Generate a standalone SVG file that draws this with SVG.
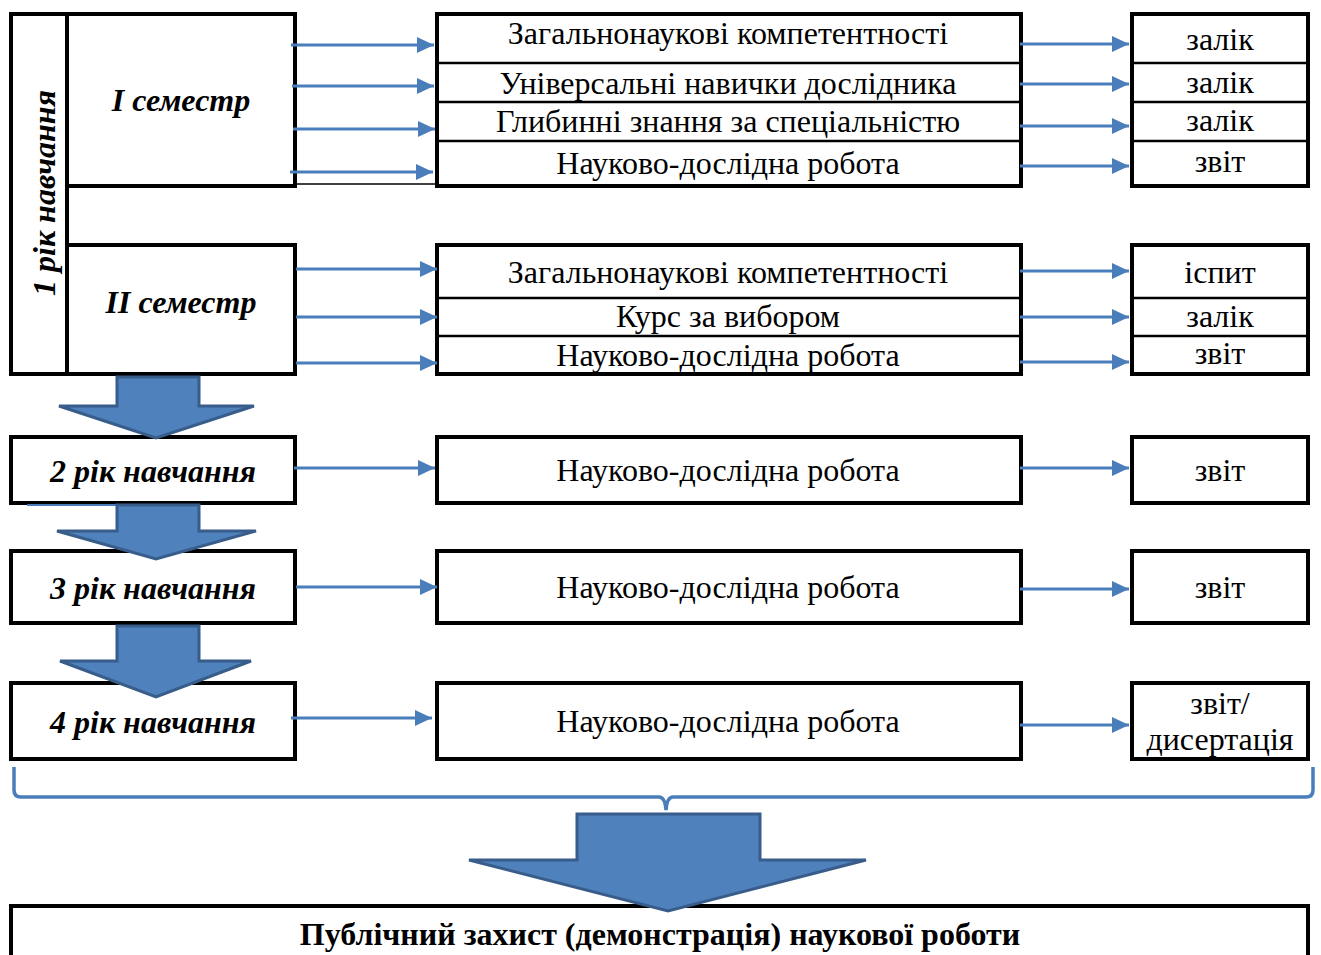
<svg xmlns="http://www.w3.org/2000/svg" width="1321" height="955" viewBox="0 0 1321 955">
<defs>
<style>
.box{fill:#fff;stroke:#000;stroke-width:4}
.div{stroke:#000;stroke-width:2.5;fill:none}
.t{font-family:"Liberation Serif","Times New Roman",serif;font-size:32px;fill:#000;text-anchor:middle}
.bi{font-family:"Liberation Serif","Times New Roman",serif;font-size:32px;font-weight:bold;font-style:italic;fill:#000;text-anchor:middle}
.b{font-family:"Liberation Serif","Times New Roman",serif;font-size:32px;font-weight:bold;fill:#000;text-anchor:middle}
.con{stroke:#4A7EBB;stroke-width:3;fill:none;marker-end:url(#ah)}
.blk{fill:#4F81BD;stroke:#385D8A;stroke-width:3;stroke-linejoin:miter}
</style>
<marker id="ah" markerUnits="userSpaceOnUse" markerWidth="18" markerHeight="16" refX="17" refY="8" orient="auto">
<path d="M0,0 L17,8 L0,16 Z" fill="#4A7EBB"/>
</marker>
</defs>
<rect width="1321" height="955" fill="#fff"/>

<g id="year1">
<rect class="box" x="11" y="14" width="56" height="360"/>
<text class="bi" transform="translate(55,193) rotate(-90)">1 рік навчання</text>
</g>
<g id="sem1">
<rect class="box" x="67" y="14" width="228" height="172"/>
<text class="bi" x="181" y="111">I семестр</text>
</g>
<g id="sem2">
<rect class="box" x="67" y="245" width="228" height="129"/>
<text class="bi" x="181" y="313">II семестр</text>
</g>

<g id="mid1">
<rect class="box" x="437" y="14" width="584" height="172"/>
<line class="div" x1="437" y1="63" x2="1021" y2="63"/>
<line class="div" x1="437" y1="102" x2="1021" y2="102"/>
<line class="div" x1="437" y1="141" x2="1021" y2="141"/>
<text class="t" x="728" y="44">Загальнонаукові компетентності</text>
<text class="t" x="728" y="94">Універсальні навички дослідника</text>
<text class="t" x="728" y="132">Глибинні знання за спеціальністю</text>
<text class="t" x="728" y="174">Науково-дослідна робота</text>
</g>
<g id="res1">
<rect class="box" x="1132" y="14" width="176" height="172"/>
<line class="div" x1="1132" y1="63" x2="1308" y2="63"/>
<line class="div" x1="1132" y1="102" x2="1308" y2="102"/>
<line class="div" x1="1132" y1="141" x2="1308" y2="141"/>
<text class="t" x="1220" y="50">залік</text>
<text class="t" x="1220" y="93">залік</text>
<text class="t" x="1220" y="131">залік</text>
<text class="t" x="1220" y="172">звіт</text>
</g>

<g id="mid2">
<rect class="box" x="437" y="245" width="584" height="129"/>
<line class="div" x1="437" y1="298" x2="1021" y2="298"/>
<line class="div" x1="437" y1="336" x2="1021" y2="336"/>
<text class="t" x="728" y="283">Загальнонаукові компетентності</text>
<text class="t" x="728" y="327">Курс за вибором</text>
<text class="t" x="728" y="366">Науково-дослідна робота</text>
</g>
<g id="res2">
<rect class="box" x="1132" y="245" width="176" height="129"/>
<line class="div" x1="1132" y1="298" x2="1308" y2="298"/>
<line class="div" x1="1132" y1="336" x2="1308" y2="336"/>
<text class="t" x="1220" y="283">іспит</text>
<text class="t" x="1220" y="327">залік</text>
<text class="t" x="1220" y="364">звіт</text>
</g>

<g id="year2">
<rect class="box" x="11" y="437" width="284" height="66"/>
<text class="bi" x="153" y="482">2 рік навчання</text>
</g>
<g id="mid3">
<rect class="box" x="437" y="437" width="584" height="66"/>
<text class="t" x="728" y="481">Науково-дослідна робота</text>
</g>
<g id="res3">
<rect class="box" x="1132" y="437" width="176" height="66"/>
<text class="t" x="1220" y="481">звіт</text>
</g>

<g id="year3">
<rect class="box" x="11" y="551" width="284" height="72"/>
<text class="bi" x="153" y="599">3 рік навчання</text>
</g>
<g id="mid4">
<rect class="box" x="437" y="551" width="584" height="72"/>
<text class="t" x="728" y="598">Науково-дослідна робота</text>
</g>
<g id="res4">
<rect class="box" x="1132" y="551" width="176" height="72"/>
<text class="t" x="1220" y="598">звіт</text>
</g>

<g id="year4">
<rect class="box" x="11" y="683" width="284" height="76"/>
<text class="bi" x="153" y="733">4 рік навчання</text>
</g>
<g id="mid5">
<rect class="box" x="437" y="683" width="584" height="76"/>
<text class="t" x="728" y="732">Науково-дослідна робота</text>
</g>
<g id="res5">
<rect class="box" x="1132" y="683" width="176" height="76"/>
<text class="t" x="1220" y="714">звіт/</text>
<text class="t" x="1220" y="750">дисертація</text>
</g>

<g id="final">
<rect class="box" x="11" y="906" width="1297" height="60"/>
<text class="b" x="660" y="945">Публічний захист (демонстрація) наукової роботи</text>
</g>

<g id="connectors">
<line x1="295" y1="184" x2="437" y2="184" stroke="#000" stroke-width="1.5"/>
<line class="con" x1="291" y1="45" x2="434" y2="45"/>
<line class="con" x1="292" y1="86" x2="434" y2="86"/>
<line class="con" x1="293" y1="129" x2="435" y2="129"/>
<line class="con" x1="290" y1="172" x2="433" y2="172"/>
<line class="con" x1="1020" y1="44" x2="1129" y2="44"/>
<line class="con" x1="1020" y1="84" x2="1129" y2="84"/>
<line class="con" x1="1020" y1="126" x2="1129" y2="126"/>
<line class="con" x1="1020" y1="166" x2="1129" y2="166"/>
<line class="con" x1="296" y1="269" x2="437" y2="269"/>
<line class="con" x1="296" y1="317" x2="437" y2="317"/>
<line class="con" x1="296" y1="363" x2="437" y2="363"/>
<line class="con" x1="1020" y1="271" x2="1129" y2="271"/>
<line class="con" x1="1020" y1="317" x2="1129" y2="317"/>
<line class="con" x1="1020" y1="362" x2="1129" y2="362"/>
<line class="con" x1="294" y1="468" x2="435" y2="468"/>
<line class="con" x1="1020" y1="468" x2="1129" y2="468"/>
<line class="con" x1="296" y1="587" x2="437" y2="587"/>
<line class="con" x1="1020" y1="589" x2="1129" y2="589"/>
<line class="con" x1="291" y1="718" x2="432" y2="718"/>
<line class="con" x1="1020" y1="725" x2="1129" y2="725"/>
<line x1="27" y1="505" x2="117" y2="505" stroke="#4A7EBB" stroke-width="2"/>
<polygon class="blk" points="117,377 199,377 199,406 254,406 156,438 59,406 117,406"/>
<polygon class="blk" points="117,505 199,505 199,531 256,531 156,559 57,531 117,531"/>
<polygon class="blk" points="117,626 199,626 199,661 251,661 156,697 60,661 117,661"/>
<path d="M14,767 L14,790 Q14,797 21,797 L659,797 Q665,797 666,810 Q667,797 673,797 L1306,797 Q1313,797 1313,790 L1313,767" fill="none" stroke="#4A7EBB" stroke-width="3.5"/>
<polygon class="blk" points="577,814 760,814 760,860 866,860 668,911 469,860 577,860"/>
</g>
</svg>
